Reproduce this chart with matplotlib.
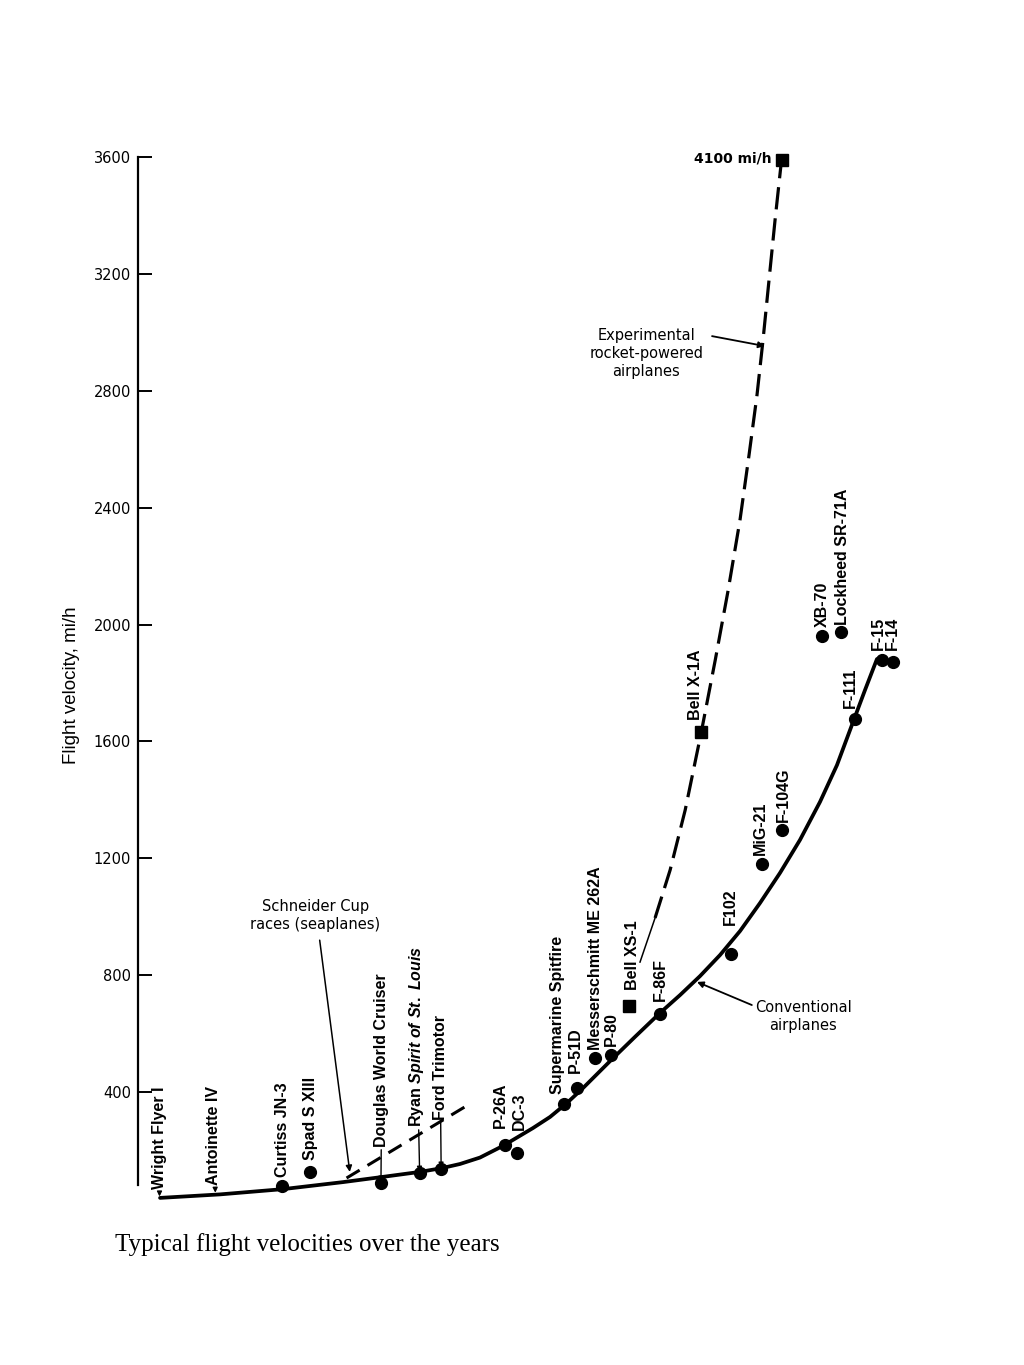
import matplotlib
matplotlib.use('Agg')
import matplotlib.pyplot as plt

plt.rcParams['mathtext.fontset'] = 'custom'
plt.rcParams['mathtext.rm'] = 'Liberation Sans:bold'
plt.rcParams['mathtext.it'] = 'Liberation Sans:italic:bold'

# conventional airplanes curve (year, mi/h)
conv_year = [1902.05, 1907.63, 1913.49, 1919.07, 1922.79, 1926.23, 1928.28,
             1929.95, 1931.81, 1933.95, 1936.74, 1938.33, 1939.91, 1941.40,
             1943.91, 1946.23, 1948.56, 1950.42, 1952.28, 1954.14, 1956.00,
             1957.86, 1959.72, 1961.58, 1963.44, 1965.02, 1966.51, 1967.63,
             1968.74]
conv_speed = [38, 50, 68, 92, 110, 127, 140,
              154, 176, 216, 277, 315, 363, 414,
              506, 589, 671, 732, 797, 869, 951,
              1047, 1150, 1263, 1393, 1519, 1666, 1776,
              1882]

# experimental rocket-powered airplanes (dashed)
exp_year = [1948.1, 1949.5, 1950.9, 1952.4, 1953.7, 1954.9, 1956.0,
            1956.84, 1957.58, 1958.14, 1958.70, 1959.26, 1959.81]
exp_speed = [996, 1160, 1365, 1632, 1879, 2118, 2358,
             2580, 2785, 2973, 3179, 3384, 3572]

# thin link from Bell XS-1 up to the rocket curve
xs1_link_year = [1946.7, 1948.1]
xs1_link_speed = [845, 996]

# Schneider Cup races (seaplanes), dashed
sch_year = [1919.4, 1930.7]
sch_speed = [106, 356]

# aircraft
names = ['Wright Flyer I', 'Antoinette IV', 'Curtiss JN-3', 'Spad S XIII',
         'Douglas World Cruiser', r'Ryan $\mathit{Spirit\ of\ St.\ Louis}$',
         'Ford Trimotor', 'P-26A', 'DC-3', 'Supermarine Spitfire', 'P-51D',
         'Messerschmitt ME 262A', 'P-80', 'Bell XS-1', 'F-86F', 'F102',
         'MiG-21', 'F-104G', 'Bell X-1A', 'XB-70', 'Lockheed SR-71A',
         'F-111', 'F-15', 'F-14']
years = [1902.0, 1907.2, 1913.4, 1916.0, 1922.6, 1926.2, 1928.2, 1934.1,
         1935.3, 1939.6, 1940.8, 1942.5, 1944.0, 1945.7, 1948.6, 1955.2,
         1958.0, 1959.9, 1952.4, 1963.6, 1965.4, 1966.7, 1969.2, 1970.2]
speeds = [38, 51, 79, 127, 89, 123, 137, 219,
          192, 359, 414, 517, 527, 695, 667, 873,
          1180, 1297, 1632, 1961, 1974, 1677, 1878, 1872]
kinds = ['tick', 'tick', 'dot', 'dot', 'dot', 'dot', 'dot', 'dot',
         'dot', 'dot', 'dot', 'dot', 'dot', 'square', 'dot', 'dot',
         'dot', 'dot', 'square', 'dot', 'dot', 'dot', 'dot', 'dot']

top_year = 1959.9
top_speed = 3589
top_label = '4100 mi/h'

# label offsets from the marker, in pixels (dx, dy up)
label_offsets = [(0, 9), (-2, 9), (0, 9), (0, 12), (1, 36), (-3, 46),
                 (-1, 49), (-4, 17), (2, 23), (-6, 10), (-1, 15), (1, 8),
                 (0, 9), (3, 16), (0, 13), (-1, 29), (-1, 9), (1, 8),
                 (-6, 12), (1, 9), (1, 7), (-5, 11), (-4, 10), (0, 12)]
arrowed = {'Wright Flyer I', 'Antoinette IV', 'Douglas World Cruiser',
           r'Ryan $\mathit{Spirit\ of\ St.\ Louis}$', 'Ford Trimotor'}

fig = plt.figure(figsize=(10.24, 13.65), dpi=100)
ax = fig.add_axes([138 / 1024, 1 - 1209 / 1365, 782 / 1024, 1052 / 1365])
ax.set_xlim(1900, 1900 + 782 / 10.75)
ax.set_ylim(0, 3600)

ax.plot(conv_year, conv_speed, color='black', lw=2.7, solid_capstyle='round',
        solid_joinstyle='round')
ax.plot(exp_year, exp_speed, color='black', lw=2.3, dashes=(7, 2.8))
ax.plot(sch_year, sch_speed, color='black', lw=2.2, dashes=(5, 3))
ax.plot(xs1_link_year, xs1_link_speed, color='black', lw=1.1)

for name, yr, v, kind, (dx, dy) in zip(names, years, speeds, kinds, label_offsets):
    if kind == 'dot':
        ax.plot(yr, v, 'o', ms=8.5, color='black', clip_on=False)
    elif kind == 'square':
        ax.plot(yr, v, 's', ms=9, color='black', clip_on=False)
    props = None
    if name in arrowed:
        props = dict(arrowstyle='-|>', lw=1.0, color='black',
                     mutation_scale=7, shrinkA=0, shrinkB=1)
    ax.annotate(name, xy=(yr, v), xytext=(dx, dy), textcoords='offset pixels',
                rotation=90, ha='center', va='bottom', fontsize=11.5,
                fontweight='bold', family='Liberation Sans', arrowprops=props)

ax.plot(top_year, top_speed, 's', ms=9, color='black', clip_on=False)
ax.text(1958.9, 3596, top_label, ha='right', va='center', fontsize=10,
        fontweight='bold')

# callouts
ax.text(1916.5, 1003, 'Schneider Cup\nraces (seaplanes)', ha='center',
        va='center', fontsize=10.5, linespacing=1.25)
ax.annotate('', xy=(1919.7, 127), xytext=(1916.9, 920),
            arrowprops=dict(arrowstyle='-|>', lw=1.1, color='black',
                            mutation_scale=9, shrinkA=0, shrinkB=0))

ax.text(1947.3, 2929, 'Experimental\nrocket-powered\nairplanes', ha='center',
        va='center', fontsize=10.5, linespacing=1.25)
ax.annotate('', xy=(1958.3, 2953), xytext=(1953.4, 2987),
            arrowprops=dict(arrowstyle='-|>', lw=1.3, color='black',
                            mutation_scale=9, shrinkA=0, shrinkB=0))

ax.text(1961.9, 660, 'Conventional\nairplanes', ha='center', va='center',
        fontsize=10.5, linespacing=1.25)
ax.annotate('', xy=(1952.0, 777), xytext=(1957.1, 698),
            arrowprops=dict(arrowstyle='-|>', lw=1.3, color='black',
                            mutation_scale=9, shrinkA=0, shrinkB=0))

# axis
for s in ['top', 'right', 'bottom']:
    ax.spines[s].set_visible(False)
ax.spines['left'].set_bounds(82, 3600)
ax.spines['left'].set_linewidth(1.6)
ax.set_xticks([])
ax.set_yticks(range(400, 3601, 400))
ax.tick_params(axis='y', direction='in', length=10, width=1.4, pad=5,
               labelsize=10.5)

fig.text(72 / 1024, 1 - 685 / 1365, 'Flight velocity, mi/h', rotation=90,
         ha='center', va='center', family='Liberation Sans', fontsize=13.5)
fig.text(115 / 1024, 1 - 1245 / 1365, 'Typical flight velocities over the years',
         ha='left', va='center', family='Liberation Serif', fontsize=18)

fig.savefig('out.png', dpi=100)
